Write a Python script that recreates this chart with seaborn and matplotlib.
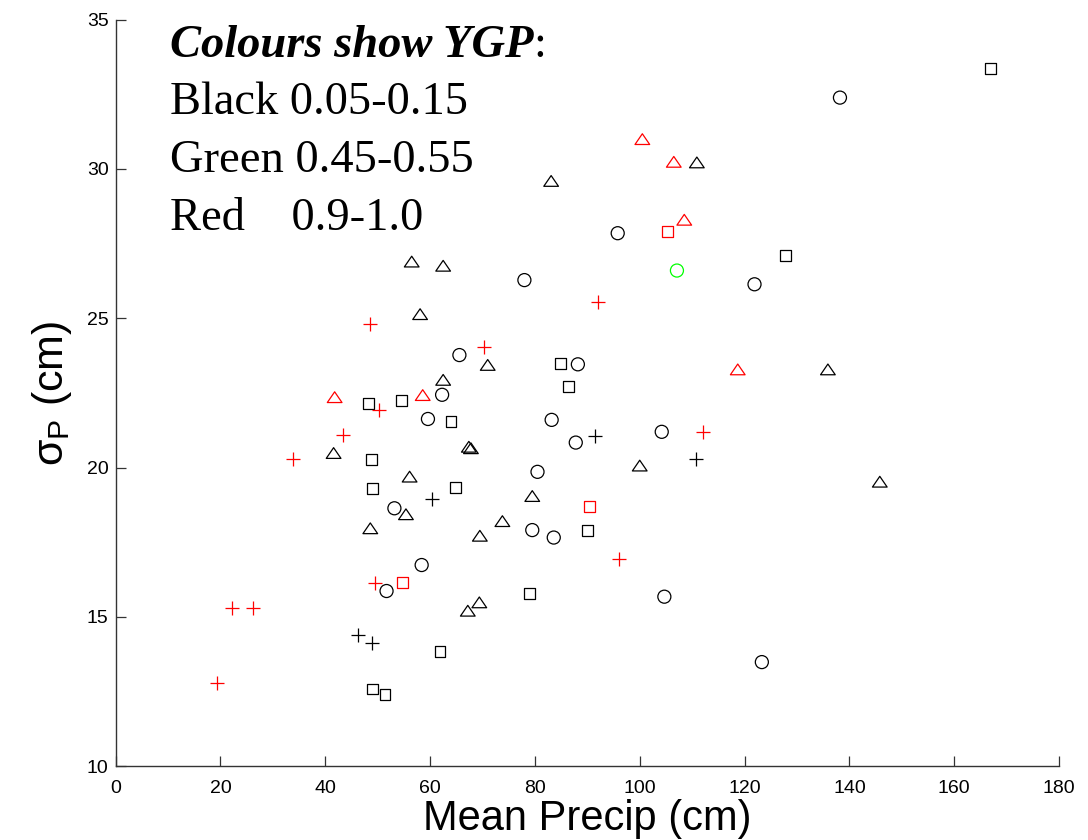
import numpy as np
import pandas as pd
import matplotlib
matplotlib.use("Agg")
import matplotlib.pyplot as plt
from matplotlib.markers import MarkerStyle
from matplotlib.path import Path
import seaborn as sns

# Mean precip (cm) vs sigma_P (cm).
# Grouped by YGP colour class and marker shape.
black_square_x = [167.0, 127.8, 84.8, 86.5, 48.2, 54.6, 64.0, 48.8, 49.1, 64.8, 90.0, 79.0, 61.9, 48.95, 51.4]
black_square_y = [33.38, 27.10, 23.50, 22.72, 22.14, 22.24, 21.56, 20.28, 19.30, 19.35, 17.90, 15.79, 13.86, 12.59, 12.41]

black_circle_x = [138.2, 95.8, 78.0, 121.9, 65.6, 88.2, 62.3, 59.6, 83.2, 104.2, 87.8, 80.5, 53.2, 79.5, 83.6, 58.4, 51.7, 104.7, 123.3]
black_circle_y = [32.39, 27.85, 26.28, 26.14, 23.77, 23.46, 22.44, 21.63, 21.60, 21.20, 20.84, 19.86, 18.64, 17.91, 17.66, 16.74, 15.87, 15.68, 13.49]

black_triangle_x = [110.9, 83.1, 56.5, 62.5, 58.1, 71.0, 62.5, 135.9, 41.6, 67.4, 67.8, 100.0, 56.1, 79.5, 145.8, 55.4, 73.8, 48.6, 69.5, 69.4, 67.2]
black_triangle_y = [30.22, 29.60, 26.90, 26.76, 25.14, 23.44, 22.94, 23.29, 20.49, 20.70, 20.65, 20.07, 19.70, 19.05, 19.53, 18.44, 18.21, 17.97, 17.72, 15.49, 15.21]

black_plus_x = [91.4, 110.7, 60.3, 46.3, 49.0]
black_plus_y = [21.05, 20.29, 18.95, 14.40, 14.12]

red_plus_x = [92.1, 48.6, 70.3, 50.2, 112.1, 43.4, 33.8, 96.0, 49.5, 22.2, 26.3, 19.4]
red_plus_y = [25.56, 24.82, 24.04, 21.93, 21.19, 21.08, 20.29, 16.94, 16.15, 15.31, 15.31, 12.78]

red_triangle_x = [100.5, 106.5, 108.5, 118.7, 41.8, 58.6]
red_triangle_y = [31.00, 30.24, 28.30, 23.29, 22.36, 22.43]

red_square_x = [105.3, 90.4, 54.7]
red_square_y = [27.90, 18.71, 16.14]

green_circle_x = [107.1]
green_circle_y = [26.60]

legend_lines = ["Black 0.05-0.15", "Green 0.45-0.55", "Red    0.9-1.0"]

groups = [
    ("black", "square", black_square_x, black_square_y),
    ("black", "circle", black_circle_x, black_circle_y),
    ("black", "triangle", black_triangle_x, black_triangle_y),
    ("black", "plus", black_plus_x, black_plus_y),
    ("red", "plus", red_plus_x, red_plus_y),
    ("red", "triangle", red_triangle_x, red_triangle_y),
    ("red", "square", red_square_x, red_square_y),
    ("green", "circle", green_circle_x, green_circle_y),
]
df = pd.concat(
    [pd.DataFrame({"precip": xs, "sigma": ys, "ygp": c, "shape": s}) for c, s, xs, ys in groups],
    ignore_index=True,
)

sns.set_theme(style="white")
plt.rcParams["font.family"] = ["Liberation Sans", "DejaVu Sans"]
plt.rcParams["text.color"] = "black"
plt.rcParams["axes.labelcolor"] = "black"
plt.rcParams["mathtext.fontset"] = "custom"
plt.rcParams["mathtext.rm"] = "Liberation Sans"
plt.rcParams["mathtext.it"] = "Liberation Sans:italic"

# matlab-ish open markers (triangle is wider than tall)
tri = Path([(-1, -0.73), (1, -0.73), (0, 0.73), (-1, -0.73)], closed=True)
MARKERS = {
    "square": MarkerStyle("s", fillstyle="none"),
    "circle": MarkerStyle("o", fillstyle="none"),
    "triangle": MarkerStyle(tri, fillstyle="none"),
    "plus": MarkerStyle("+"),
}
SIZES = {"square": 62, "circle": 88, "triangle": 112, "plus": 92}
COLOURS = {"black": "black", "red": "#ff0000", "green": "#00ff00"}

fig = plt.figure(figsize=(10.88, 8.4), dpi=100)
ax = fig.add_axes([0.1062, 0.0877, 0.8672, 0.8889])

for (ygp, shape), sub in df.groupby(["ygp", "shape"], sort=False):
    sns.scatterplot(
        data=sub, x="precip", y="sigma",
        marker=MARKERS[shape], s=SIZES[shape],
        color=COLOURS[ygp], linewidth=0.9, ax=ax,
    )

ax.set_xlim(0, 180)
ax.set_ylim(10, 35)
ax.set_xticks(np.arange(0, 181, 20))
ax.set_yticks(np.arange(10, 36, 5))
ax.tick_params(bottom=True, left=True, direction="in", length=7, width=0.9,
               colors="#333333", labelcolor="black", labelsize=14)
ax.tick_params(axis="x", pad=10)
ax.tick_params(axis="y", pad=5)
sns.despine(ax=ax)
for side in ["left", "bottom"]:
    ax.spines[side].set_color("#333333")
    ax.spines[side].set_linewidth(1.0)

ax.set_xlabel("Mean Precip (cm)", fontsize=30, labelpad=1)
ax.set_ylabel(r"σ$_\mathrm{P}$ (cm)", fontsize=31, labelpad=9)

# colour key written as text, like the original
serif = ["Liberation Serif", "DejaVu Serif"]
fs = 33.5
head = ax.text(10.4, 33.75, "Colours show YGP", family=serif, fontsize=fs,
               fontweight="bold", fontstyle="italic", va="baseline")
ax.annotate(":", xy=(1, 0), xycoords=head, va="bottom", family=serif, fontsize=fs)
for line, yb in zip(legend_lines, [31.84, 29.90, 27.96]):
    ax.text(10.4, yb, line, family=serif, fontsize=fs, va="baseline")

fig.savefig("out.png", dpi=100)
